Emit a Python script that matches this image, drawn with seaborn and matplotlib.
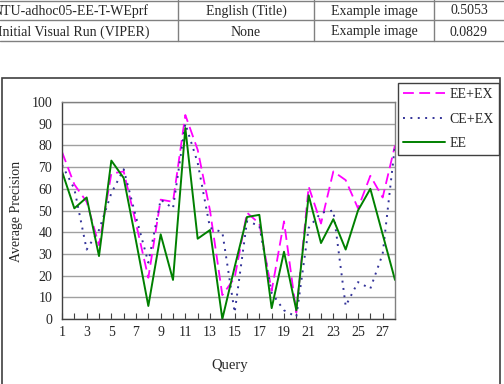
import matplotlib
matplotlib.use("Agg")
import matplotlib.pyplot as plt
import seaborn as sns
import pandas as pd
from matplotlib.patches import Rectangle
from matplotlib.lines import Line2D

# values
queries = list(range(1, 29))
ee_ex = [77, 62, 54, 34, 67, 68, 44, 19, 55, 54, 94, 78, 50, 11, 19, 49,
         44, 13, 45, 3, 61, 44, 68, 64, 51, 66, 56, 80]
ce_ex = [71, 60, 32, 41, 58, 69, 47, 26, 55, 51, 90, 72, 42, 40, 3, 45,
         43, 12, 4, 1, 42, 49, 50, 6, 17, 14, 30, 80]
ee = [68, 51, 56, 29, 73, 65, 36, 6, 39, 18, 88, 37, 41, 0, 24, 47,
      48, 5, 31, 4, 57, 35, 46, 32, 50, 60, 39, 18]
odd_ticks = list(range(1, 28, 2))

table_rows = [
    ["NTU-adhoc05-EE-T-WEprf", "English (Title)", "Example image", "0.5053"],
    ["Initial Visual Run (VIPER)", "None", "Example image", "0.0829"],
]

df = pd.DataFrame({"Query": queries, "EE+EX": ee_ex, "CE+EX": ce_ex, "EE": ee})

sns.set_style("white")
plt.rcParams['font.family'] = ['Liberation Serif', 'DejaVu Serif']

W, H = 504, 384
fig = plt.figure(figsize=(W / 100, H / 100), dpi=100)
ax = fig.add_axes([62 / W, 1 - 319 / H, (395 - 62) / W, (319 - 102) / H])

sns.lineplot(data=df, x="Query", y="EE+EX", ax=ax, color="#ff00ff", lw=1.3,
             linestyle=(0, (6, 3)), label="EE+EX")
sns.lineplot(data=df, x="Query", y="CE+EX", ax=ax, color="#333399", lw=1.4,
             linestyle=(0, (1, 2.8)), label="CE+EX")
sns.lineplot(data=df, x="Query", y="EE", ax=ax, color="#008000", lw=1.4,
             label="EE")

ax.set_xlim(1, 28)
ax.set_ylim(0, 100)
ax.set_yticks(range(0, 101, 10))
ax.yaxis.grid(True, color="#a0a0a0", lw=1)
ax.set_xticks(queries)
ax.set_xticklabels([str(q) if q in odd_ticks else "" for q in queries])
ax.tick_params(axis="x", direction="in", length=4, width=0.8, color="#404040",
               pad=5, labelsize=10, bottom=True)
ax.tick_params(axis="y", length=0, pad=7, labelsize=10)
for s in ax.spines.values():
    s.set_color("#808080")
    s.set_linewidth(1)
ax.spines["left"].set_color("#404040")
ax.spines["bottom"].set_color("#404040")

ax.set_xlabel("")
ax.set_ylabel("")
fig.text(230 / W, 1 - 365 / H, "Query", ha="center", va="center", fontsize=10.5)
fig.text(17 / W, 1 - 211 / H, "Average Precision", ha="center", va="center",
         rotation=90, fontsize=10)

ax.get_legend().remove()
handles, labels = ax.get_legend_handles_labels()
leg = fig.legend(handles, labels, loc="upper left",
                 bbox_to_anchor=(398 / W, 1 - 83 / H), fontsize=10,
                 handlelength=3.0, labelspacing=0.82, borderpad=0.38,
                 borderaxespad=0, handletextpad=0.3, fancybox=False,
                 framealpha=1)
leg.get_frame().set_edgecolor("#404040")
leg.get_frame().set_linewidth(1)

# outer chart frame
fig.add_artist(Rectangle((2 / W, -0.05), 498 / W, 0.05 + 1 - 78 / H,
                         transform=fig.transFigure, fill=False,
                         edgecolor="#404040", lw=1.2, clip_on=False))

# table fragment above the chart
for yp in [0.5, 20, 41]:
    fig.add_artist(Line2D([0, 1], [1 - yp / H] * 2, transform=fig.transFigure,
                          color="#808080", lw=1))
for xp in [178, 314, 434]:
    fig.add_artist(Line2D([xp / W] * 2, [1, 1 - 41 / H],
                          transform=fig.transFigure, color="#808080", lw=1))
col_x = [None, 246, 374, 469]
for r, row in enumerate(table_rows):
    yc = 1 - (11 + 21 * r) / H
    fig.text(149 / W, yc, row[0], ha="right", va="center", fontsize=10)
    for c in range(1, 4):
        fig.text(col_x[c] / W, yc, row[c], ha="center", va="center",
                 fontsize=10)

fig.savefig("out.png", dpi=100)
